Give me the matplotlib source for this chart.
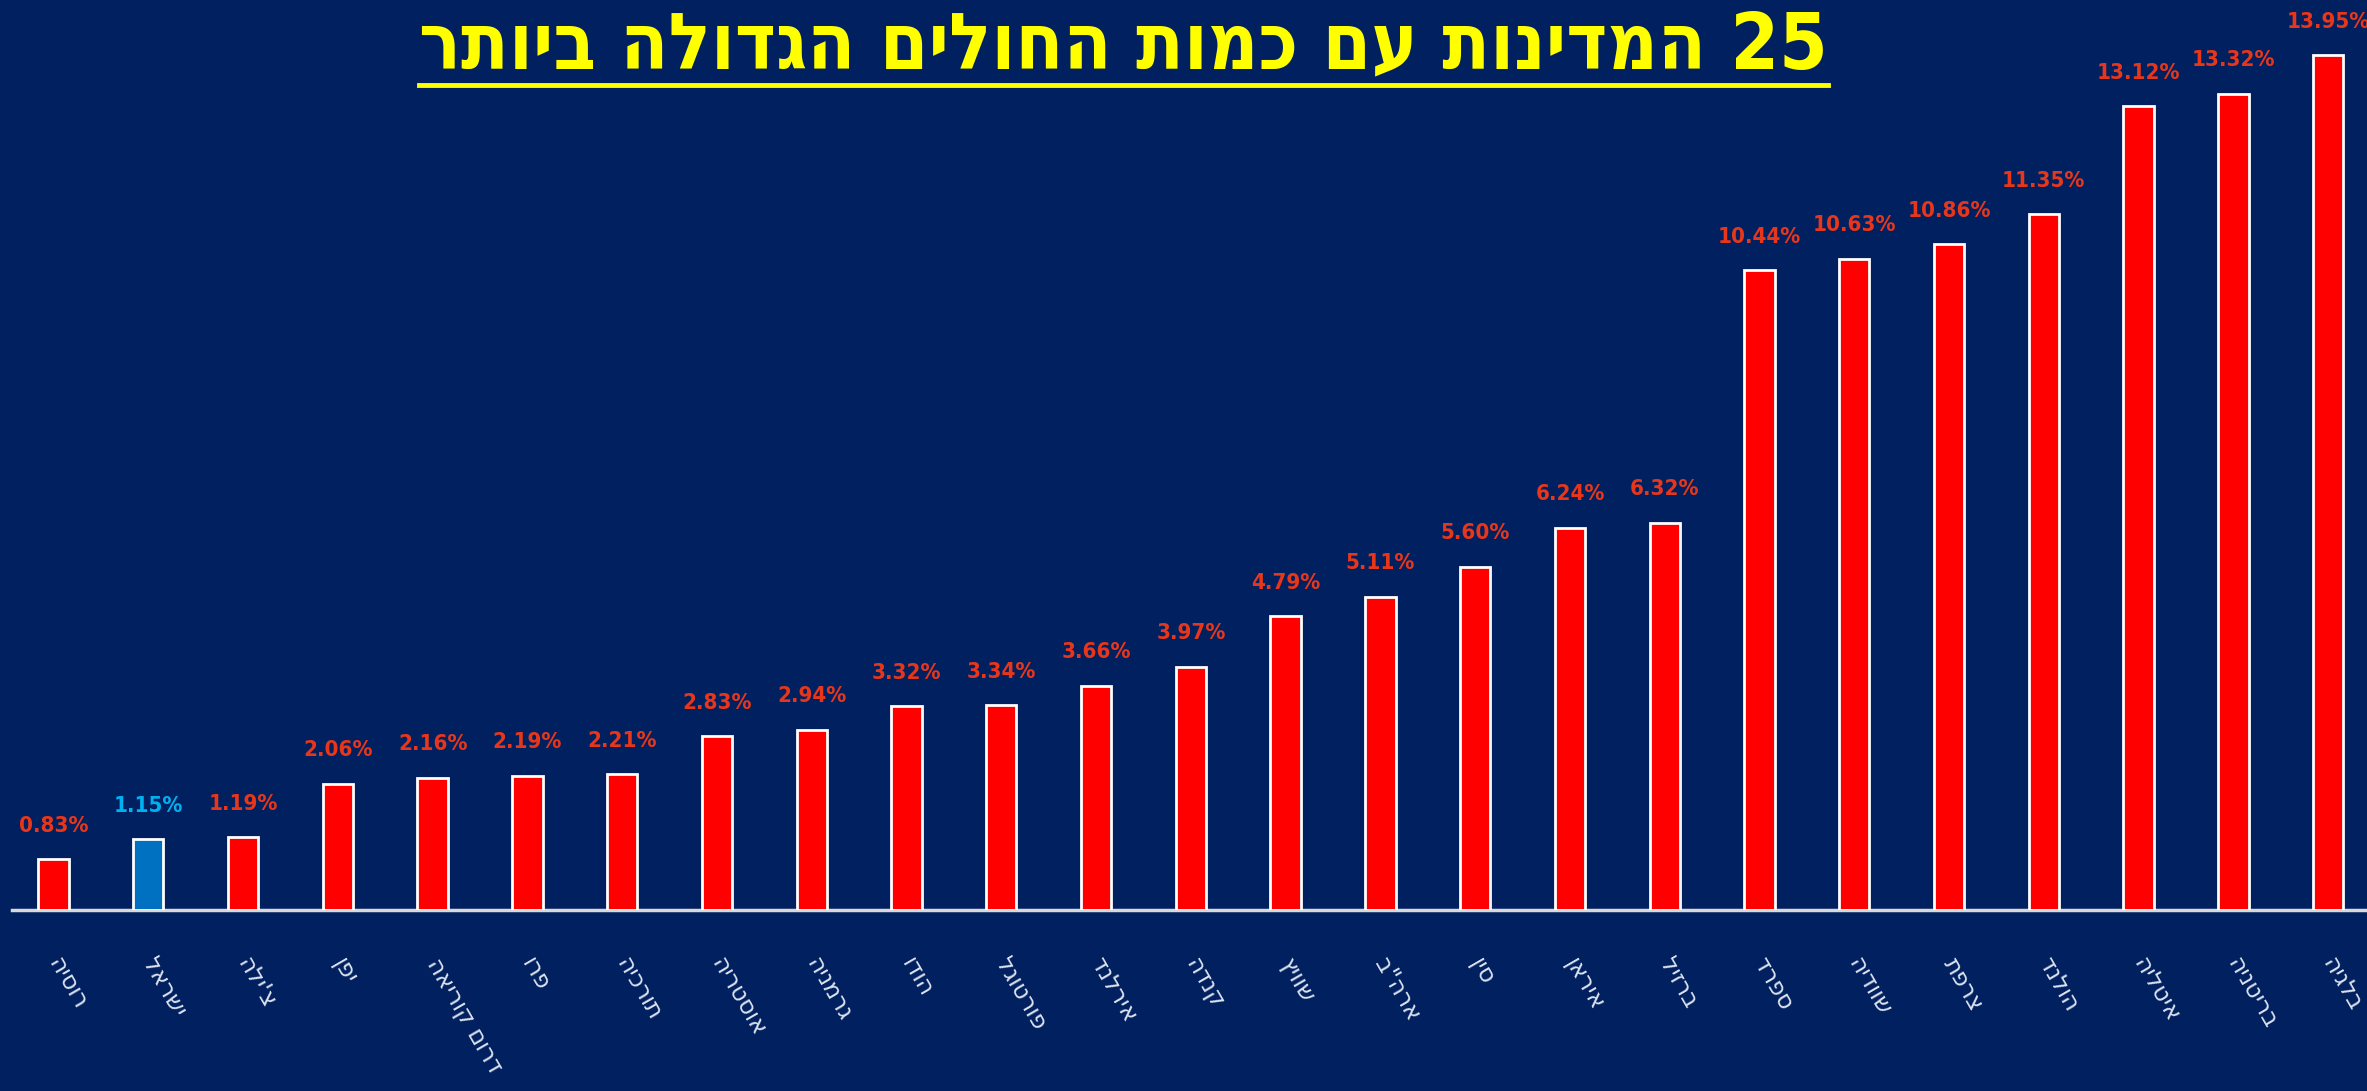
import matplotlib
matplotlib.use("Agg")
import matplotlib.pyplot as plt
import numpy as np
from matplotlib.lines import Line2D


BG = "#002060"
RED = "#FF0000"
BLUE = "#0070C0"
RED_TEXT = "#E8361A"
BLUE_TEXT = "#00B0F0"

TITLE = "25 המדינות עם כמות החולים הגדולה ביותר"

COUNTRIES = [
    "רוסיה", "ישראל", "צ'ילה", "יפן", "דרום קוריאה", "פרו", "תורכיה",
    "אוסטריה", "גרמניה", "הודו", "פורטוגל", "אירלנד", "קנדה", "שוויץ",
    'ארה"ב', "סין", "איראן", "ברזיל", "ספרד", "שוודיה", "צרפת", "הולנד",
    "איטליה", "בריטניה", "בלגיה",
]
PERCENT = [
    0.83, 1.15, 1.19, 2.06, 2.16, 2.19, 2.21, 2.83, 2.94, 3.32, 3.34, 3.66,
    3.97, 4.79, 5.11, 5.60, 6.24, 6.32, 10.44, 10.63, 10.86, 11.35, 13.12,
    13.32, 13.95,
]
HIGHLIGHT = "ישראל"


def visual(text: str) -> str:
    # matplotlib has no bidi: lay Hebrew out right-to-left by hand
    out = []
    for word in reversed(text.split(" ")):
        out.append(word if word.isdigit() else word[::-1])
    return " ".join(out)


def main() -> None:
    fig = plt.figure(figsize=(23.67, 10.91), dpi=100, facecolor=BG)
    ax = fig.add_axes([0.005, 0.166, 0.995, 0.834])
    ax.set_facecolor(BG)

    x = np.arange(len(COUNTRIES))
    colors = [BLUE if c == HIGHLIGHT else RED for c in COUNTRIES]
    ax.bar(x, PERCENT, width=0.32, color=colors, edgecolor="white",
           linewidth=2.0, zorder=3)

    for xi, val, name in zip(x, PERCENT, COUNTRIES):
        ax.annotate(f"{val:.2f}%", (xi, val), xytext=(0, 24),
                    textcoords="offset points", ha="center", va="center",
                    fontsize=16, fontweight="bold", fontstretch="condensed",
                    family=["DejaVu Sans"],
                    color=BLUE_TEXT if name == HIGHLIGHT else RED_TEXT,
                    annotation_clip=False)

    ax.set_xlim(-0.44, len(COUNTRIES) - 0.59)
    ax.set_ylim(0, 14.85)
    ax.set_xticks(x)
    ax.set_xticklabels([visual(c) for c in COUNTRIES], rotation=-60,
                       ha="left", va="center", rotation_mode="anchor",
                       fontsize=17, color="#DDE3F0",
                       family=["DejaVu Sans"])
    ax.tick_params(axis="x", length=0, pad=36)
    ax.set_yticks([])
    for side in ("left", "right", "top"):
        ax.spines[side].set_visible(False)
    ax.spines["bottom"].set_color("#D9D9D9")
    ax.spines["bottom"].set_linewidth(2.5)

    title = fig.text(0.4745, 0.957, visual(TITLE), ha="center", va="center",
                     fontsize=56, fontweight="bold", fontstretch="condensed",
                     color="#FFFF00", family=["DejaVu Sans"])
    fig.canvas.draw()
    bb = title.get_window_extent().transformed(fig.transFigure.inverted())
    fig.add_artist(Line2D([bb.x0, bb.x1], [0.922, 0.922],
                          transform=fig.transFigure, color="#FFFF00",
                          linewidth=3.5))

    fig.savefig("out.png", dpi=100, facecolor=BG)
    plt.close(fig)


if __name__ == "__main__":
    main()
